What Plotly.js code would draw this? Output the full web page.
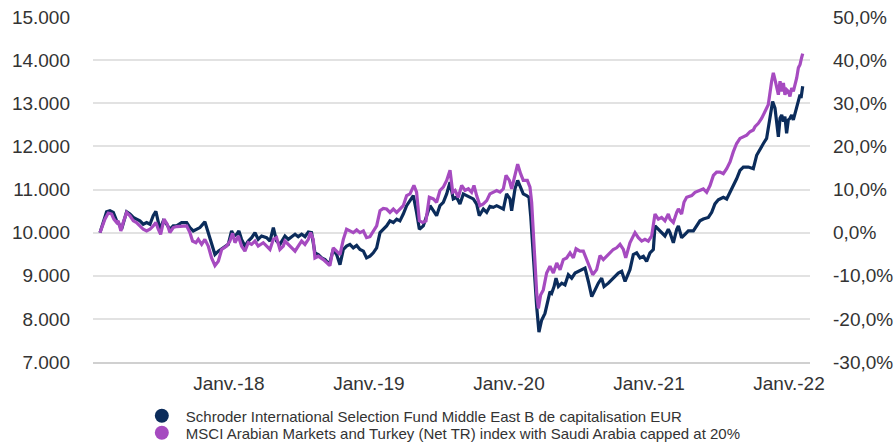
<!DOCTYPE html>
<html><head><meta charset="utf-8">
<script src="https://cdn.plot.ly/plotly-3.0.1.min.js"></script>
<style>html,body{margin:0;padding:0;background:#fff}#chart{width:895px;height:442px}</style>
</head><body><div id="chart"></div>
<script>
// Time in decimal years, values = growth of 10.000 (EUR)
const fundT = [2017.079,2017.126,2017.150,2017.174,2017.198,2017.209,2017.233,2017.269,2017.293,2017.317,2017.340,2017.364,2017.388,2017.412,2017.436,2017.459,2017.478,2017.495,2017.507,2017.531,2017.555,2017.578,2017.602,2017.626,2017.662,2017.698,2017.721,2017.745,2017.769,2017.793,2017.828,2017.852,2017.876,2017.900,2017.924,2017.959,2017.995,2018.019,2018.036,2018.055,2018.071,2018.090,2018.114,2018.138,2018.162,2018.186,2018.209,2018.233,2018.269,2018.293,2018.317,2018.340,2018.364,2018.400,2018.424,2018.448,2018.472,2018.495,2018.519,2018.543,2018.567,2018.590,2018.614,2018.638,2018.662,2018.686,2018.717,2018.745,2018.769,2018.793,2018.817,2018.840,2018.864,2018.888,2018.912,2018.936,2018.960,2018.983,2019.007,2019.031,2019.055,2019.079,2019.102,2019.126,2019.150,2019.174,2019.198,2019.221,2019.245,2019.269,2019.293,2019.317,2019.340,2019.360,2019.388,2019.412,2019.436,2019.460,2019.483,2019.507,2019.531,2019.555,2019.579,2019.602,2019.626,2019.650,2019.674,2019.698,2019.721,2019.745,2019.769,2019.788,2019.817,2019.841,2019.864,2019.888,2019.912,2019.936,2019.960,2019.983,2020.007,2020.019,2020.043,2020.062,2020.079,2020.102,2020.126,2020.143,2020.155,2020.169,2020.186,2020.198,2020.214,2020.233,2020.257,2020.281,2020.293,2020.305,2020.322,2020.336,2020.353,2020.377,2020.400,2020.424,2020.448,2020.472,2020.496,2020.519,2020.543,2020.567,2020.591,2020.615,2020.638,2020.662,2020.679,2020.710,2020.734,2020.757,2020.781,2020.805,2020.829,2020.864,2020.888,2020.912,2020.936,2020.960,2020.983,2021.007,2021.031,2021.043,2021.067,2021.090,2021.114,2021.138,2021.150,2021.174,2021.198,2021.210,2021.233,2021.257,2021.281,2021.317,2021.340,2021.364,2021.388,2021.424,2021.448,2021.471,2021.495,2021.531,2021.555,2021.579,2021.602,2021.626,2021.650,2021.674,2021.710,2021.745,2021.769,2021.793,2021.817,2021.840,2021.864,2021.883,2021.900,2021.912,2021.924,2021.936,2021.948,2021.960,2021.971,2021.983,2021.995,2022.007,2022.019,2022.031,2022.043,2022.055,2022.067,2022.079,2022.086,2022.098];
const fundV = [10000,10484,10508,10469,10273,10234,10078,10484,10430,10352,10313,10273,10195,10234,10195,10391,10492,10234,10078,10273,10195,10078,10156,10156,10234,10234,10117,10039,10078,10117,10250,10000,9688,9492,9570,9648,9727,10039,9922,9961,10039,9844,9688,9805,9883,10000,9844,9922,9883,9805,10117,9805,9727,9922,9844,9906,9961,9906,9961,9906,10016,10000,9531,9492,9414,9375,9258,9609,9492,9258,9609,9688,9727,9648,9703,9609,9570,9414,9453,9531,9648,10000,10078,10156,10273,10234,10313,10273,10430,10625,10742,10859,10469,10078,10156,10391,10625,10508,10391,10625,10703,10898,11172,10781,10820,10664,10898,10859,10820,10781,10664,10391,10547,10469,10609,10586,10625,10586,10547,10898,10781,10508,11016,11211,11094,10898,10859,10820,10391,9609,8828,8281,7695,7969,8125,8438,8633,8594,8750,8945,8750,8828,8789,9023,8945,9063,9102,9141,9180,8867,8516,8672,8828,8945,8750,8828,8906,8984,9063,9102,8867,9141,9490,9530,9412,9451,9334,9530,9608,10157,10078,10000,9922,10078,10000,9765,10078,10157,9882,9961,10039,10039,10157,10274,10314,10353,10470,10666,10760,10819,10780,10936,11092,11248,11443,11521,11521,11482,11794,11950,12067,12184,12652,13042,12886,12613,12223,12652,12730,12574,12691,12301,12613,12652,12730,12613,12769,12925,13042,13198,13120,13393];

const indexT = [2017.079,2017.114,2017.138,2017.162,2017.178,2017.198,2017.209,2017.228,2017.245,2017.269,2017.293,2017.317,2017.340,2017.364,2017.388,2017.412,2017.436,2017.459,2017.478,2017.495,2017.512,2017.536,2017.559,2017.578,2017.602,2017.626,2017.662,2017.698,2017.721,2017.740,2017.764,2017.781,2017.805,2017.828,2017.852,2017.876,2017.900,2017.924,2017.948,2017.983,2018.007,2018.026,2018.043,2018.067,2018.090,2018.114,2018.138,2018.162,2018.186,2018.209,2018.245,2018.293,2018.317,2018.340,2018.364,2018.388,2018.400,2018.424,2018.448,2018.472,2018.495,2018.519,2018.543,2018.567,2018.583,2018.602,2018.614,2018.638,2018.674,2018.698,2018.721,2018.745,2018.769,2018.793,2018.817,2018.840,2018.864,2018.888,2018.912,2018.936,2018.960,2018.983,2019.007,2019.031,2019.055,2019.079,2019.102,2019.126,2019.150,2019.174,2019.198,2019.221,2019.245,2019.269,2019.293,2019.321,2019.340,2019.360,2019.383,2019.407,2019.431,2019.460,2019.483,2019.507,2019.531,2019.555,2019.579,2019.598,2019.615,2019.638,2019.662,2019.686,2019.710,2019.733,2019.750,2019.769,2019.793,2019.817,2019.841,2019.864,2019.888,2019.912,2019.936,2019.960,2019.979,2020.003,2020.019,2020.043,2020.062,2020.083,2020.102,2020.131,2020.150,2020.162,2020.174,2020.186,2020.198,2020.210,2020.226,2020.245,2020.269,2020.293,2020.317,2020.341,2020.365,2020.388,2020.412,2020.436,2020.460,2020.479,2020.507,2020.531,2020.555,2020.579,2020.598,2020.626,2020.650,2020.674,2020.698,2020.721,2020.745,2020.769,2020.793,2020.817,2020.834,2020.864,2020.900,2020.924,2020.948,2020.971,2020.995,2021.019,2021.043,2021.067,2021.090,2021.114,2021.138,2021.150,2021.174,2021.198,2021.210,2021.233,2021.250,2021.269,2021.305,2021.329,2021.364,2021.388,2021.412,2021.436,2021.460,2021.483,2021.507,2021.531,2021.555,2021.579,2021.602,2021.626,2021.650,2021.674,2021.698,2021.721,2021.745,2021.757,2021.781,2021.805,2021.829,2021.852,2021.876,2021.888,2021.900,2021.912,2021.924,2021.936,2021.948,2021.960,2021.971,2021.983,2021.995,2022.007,2022.019,2022.031,2022.043,2022.055,2022.067,2022.079,2022.090,2022.098];
const indexV = [10000,10313,10453,10430,10313,10234,10273,10039,10234,10469,10391,10273,10234,10156,10078,10039,10078,10156,10234,10078,9961,10313,10195,10000,10117,10141,10141,10156,10000,9805,9766,9844,9727,9844,9688,9414,9234,9336,9609,9688,9805,9984,9766,9922,9688,9570,9766,9727,9805,9688,9766,9609,9844,9883,9609,9688,9805,9727,9648,9570,9688,9805,9727,9844,10000,9844,9414,9453,9375,9297,9234,9648,9570,9492,9844,10078,10039,10000,10063,10000,10039,9883,9906,10039,10156,10508,10563,10547,10469,10547,10469,10547,10625,10859,10898,11094,10938,10273,10234,10273,10820,10781,10703,10977,11055,11211,11445,10938,10977,10820,11094,10977,11016,10938,11094,10859,10625,10664,10742,10898,10938,10977,10938,11016,11328,11211,11016,11367,11586,11367,11211,11211,11055,10703,10000,9141,8594,8242,8555,8672,9063,9219,9063,9297,9141,9375,9414,9531,9414,9625,9570,9570,9375,9141,9023,9141,9469,9375,9453,9531,9609,9648,9727,9609,9414,9766,10000,9882,9804,9843,9804,9922,10431,10314,10353,10274,10431,10314,10235,10470,10549,10431,10706,10819,10858,10936,10975,11014,10936,11092,11326,11404,11404,11365,11482,11638,11872,12067,12184,12223,12262,12340,12379,12457,12535,12652,12808,12964,13510,13705,13549,13354,13198,13510,13276,13471,13198,13315,13276,13159,13354,13276,13432,13588,13822,13900,14056,14150];

const seriesNames = ['Schroder International Selection Fund Middle East B de capitalisation EUR',
  'MSCI Arabian Markets and Turkey (Net TR) index with Saudi Arabia capped at 20%'];
const seriesColors = ['#0b2c5b', '#a64bc0'];

const yearTicks = [2018, 2019, 2020, 2021, 2022];
const yearLabels = ['Janv.-18', 'Janv.-19', 'Janv.-20', 'Janv.-21', 'Janv.-22'];
const leftTicks = [7000, 8000, 9000, 10000, 11000, 12000, 13000, 14000, 15000];
const leftLabels = ['7.000', '8.000', '9.000', '10.000', '11.000', '12.000', '13.000', '14.000', '15.000'];
const rightTicks = [-0.3, -0.2, -0.1, 0, 0.1, 0.2, 0.3, 0.4, 0.5];
const rightLabels = ['-30,0%', '-20,0%', '-10,0%', '0,0%', '10,0%', '20,0%', '30,0%', '40,0%', '50,0%'];

const FONT = 'Liberation Sans, Arial, sans-serif';
const traces = [
  {x: fundT, y: fundV, type: 'scatter', mode: 'lines', line: {color: seriesColors[0], width: 3.2}, showlegend: false, hoverinfo: 'skip'},
  {x: indexT, y: indexV, type: 'scatter', mode: 'lines', line: {color: seriesColors[1], width: 3.2}, showlegend: false, hoverinfo: 'skip'},
  // empty trace that attaches the percentage axis
  {x: [null], y: [null], type: 'scatter', mode: 'lines', yaxis: 'y2', showlegend: false, hoverinfo: 'skip'},
  {x: [null], y: [null], type: 'scatter', mode: 'markers', name: seriesNames[0], legend: 'legend', marker: {color: seriesColors[0], size: 14, symbol: 'circle'}},
  {x: [null], y: [null], type: 'scatter', mode: 'markers', name: seriesNames[1], legend: 'legend2', marker: {color: seriesColors[1], size: 14, symbol: 'circle'}}
];

const legendBase = {
  orientation: 'v', xref: 'container', yref: 'container', xanchor: 'left', yanchor: 'middle',
  font: {size: 15, color: '#333', family: FONT}, itemwidth: 38, bgcolor: 'rgba(0,0,0,0)'
};

const layout = {
  width: 895, height: 442,
  margin: {l: 93, r: 85, t: 17, b: 80, autoexpand: false},
  paper_bgcolor: '#fff', plot_bgcolor: '#fff',
  font: {family: FONT, color: '#333', size: 19},
  xaxis: {
    range: [2017.029, 2022.15], tickvals: yearTicks, ticktext: yearLabels,
    showgrid: false, zeroline: false, showline: true, linecolor: '#d0d0d0', linewidth: 2,
    ticks: '', ticklabelstandoff: 3, tickfont: {size: 19, color: '#333'}
  },
  yaxis: {
    range: [7000, 15000], tickvals: leftTicks, ticktext: leftLabels,
    showgrid: true, gridcolor: '#e2e2e2', gridwidth: 2, zeroline: false, showline: false,
    ticks: '', ticklabelstandoff: 22, tickfont: {size: 19, color: '#333'}
  },
  yaxis2: {
    overlaying: 'y', side: 'right', anchor: 'x',
    range: [-0.3, 0.5], tickvals: rightTicks, ticktext: rightLabels,
    showgrid: false, zeroline: false, showline: false,
    ticks: '', ticklabelstandoff: 22, tickfont: {size: 19, color: '#333'}
  },
  legend: Object.assign({}, legendBase, {x: 0.154, y: 1 - 416 / 442}),
  legend2: Object.assign({}, legendBase, {x: 0.154, y: 1 - 433 / 442}),
  showlegend: true
};

Plotly.newPlot('chart', traces, layout, {staticPlot: true, displayModeBar: false});
</script></body></html>
